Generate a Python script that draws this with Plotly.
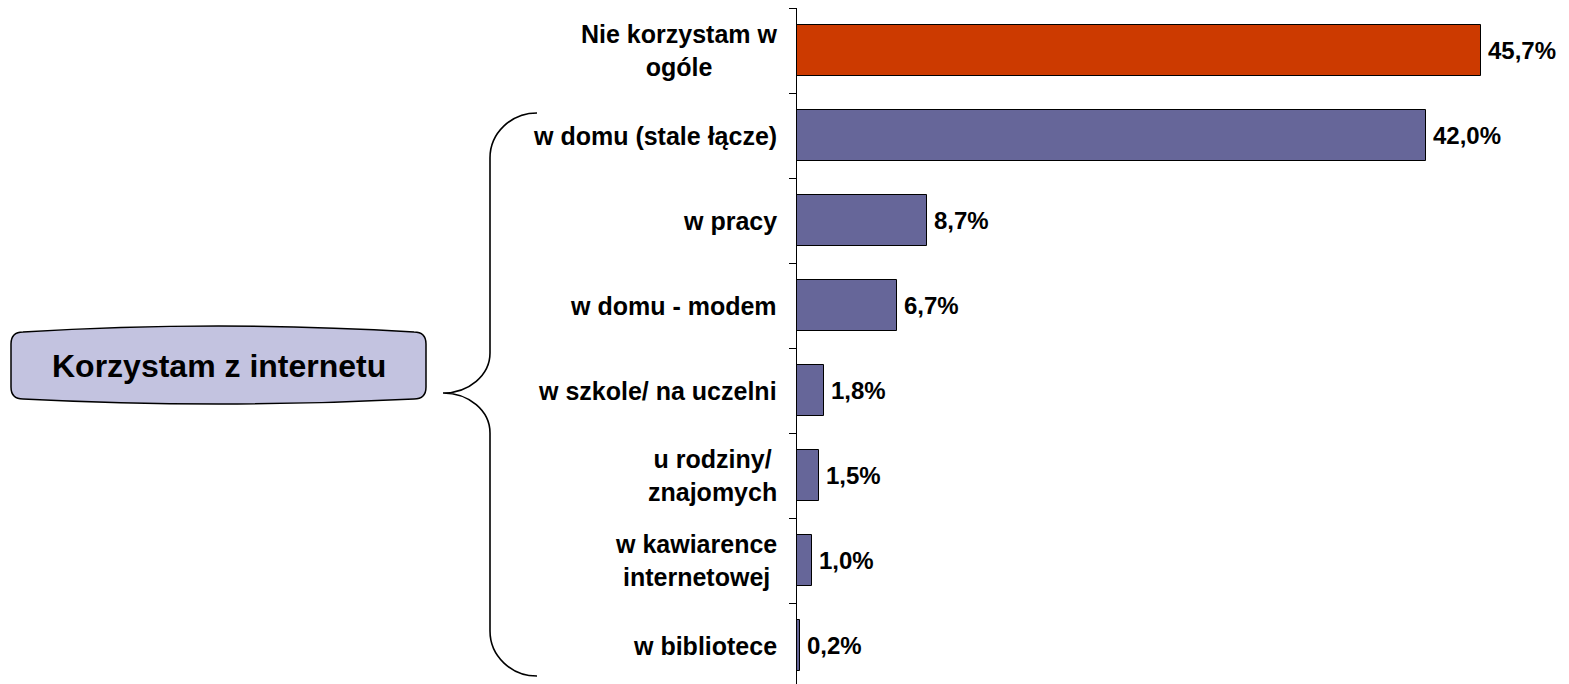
import plotly.graph_objects as go

# ---- data ----
categories = [
    "Nie korzystam w<br>ogóle",
    "w domu (stale łącze)",
    "w pracy",
    "w domu - modem",
    "w szkole/ na uczelni",
    "u rodziny/<br>znajomych",
    "w kawiarence<br>internetowej",
    "w bibliotece",
]
values = [45.7, 42.0, 8.7, 6.7, 1.8, 1.5, 1.0, 0.2]
bar_colors = ["#CC3A00"] + ["#666699"] * 7
group_label = "Korzystam z internetu"

# page body has an 8px default margin -> figure is offset by 8px
OFF = 8
W, H = 1569 - OFF, 684 - OFF
AXIS_X, TOP_Y = 797, 8          # reference-page coordinates
ML, MT = AXIS_X - OFF, TOP_Y - OFF
PW, PH = W - ML, H - MT
PX_PER_UNIT = 14.97
CAT_PX = 85.0

FONT = "Liberation Sans, Arial, sans-serif"

def px(x):
    # reference page x -> paper x
    return (x - OFF - ML) / PW

def py(y):
    # reference page y -> paper y
    return (H - (y - OFF)) / PH

ypos = list(range(len(categories)))
labels = [("%.1f" % v).replace(".", ",") + "%" for v in values]

fig = go.Figure()
fig.add_trace(go.Bar(
    x=values, y=ypos, orientation="h",
    marker=dict(color=bar_colors, line=dict(color="#000000", width=1)),
    width=0.59,
    hoverinfo="skip",
))

n_vis = PH / CAT_PX
fig.update_layout(
    width=W, height=H,
    margin=dict(l=ML, r=0, t=MT, b=0, pad=0),
    paper_bgcolor="white", plot_bgcolor="white",
    showlegend=False,
    bargap=0,
    xaxis=dict(visible=False, range=[0, PW / PX_PER_UNIT], fixedrange=True),
    yaxis=dict(
        range=[-0.5 + n_vis, -0.5],
        showline=True, linecolor="#000000", linewidth=1,
        showgrid=False, zeroline=False,
        tickmode="array",
        tickvals=[i - 0.5 for i in range(len(categories))],
        ticks="outside", ticklen=7, tickcolor="#000000", tickwidth=1,
        showticklabels=False,
    ),
)

# value labels
for i, (v, t) in enumerate(zip(values, labels)):
    fig.add_annotation(
        x=v, xref="x", y=i, yref="y",
        text="<b>%s</b>" % t, showarrow=False,
        xanchor="left", yanchor="middle", xshift=5,
        font=dict(family=FONT, size=24, color="#000000"),
    )

# category labels (centred lines, right-aligned block)
for i, c in enumerate(categories):
    fig.add_annotation(
        x=0, xref="paper", y=i, yref="y",
        text="<b>%s</b>" % c, showarrow=False,
        xanchor="right", yanchor="middle", xshift=-18,
        align="center",
        font=dict(family=FONT, size=25, color="#000000"),
    )

# rounded box
bx0, bx1, by0, by1 = 11, 426, 332, 399
r = 12
path = (
    f"M {px(bx0)},{py(by0 + r)} "
    f"Q {px(bx0)},{py(by0)} {px(bx0 + r)},{py(by0)} "
    f"Q {px((bx0 + bx1) / 2)},{py(by0 - 12)} {px(bx1 - r)},{py(by0)} "
    f"Q {px(bx1)},{py(by0)} {px(bx1)},{py(by0 + r)} "
    f"L {px(bx1)},{py(by1 - r)} "
    f"Q {px(bx1)},{py(by1)} {px(bx1 - r)},{py(by1)} "
    f"Q {px((bx0 + bx1) / 2)},{py(by1 + 10)} {px(bx0 + r)},{py(by1)} "
    f"Q {px(bx0)},{py(by1)} {px(bx0)},{py(by1 - r)} Z"
)
fig.add_shape(type="path", xref="paper", yref="paper", path=path,
              fillcolor="#C3C3E0", line=dict(color="#000000", width=1.5), layer="below")
fig.add_annotation(
    x=px((bx0 + bx1) / 2), y=py(366), xref="paper", yref="paper",
    text="<b>%s</b>" % group_label, showarrow=False,
    xanchor="center", yanchor="middle",
    font=dict(family=FONT, size=32, color="#000000"),
)

# curly brace
k = 0.5523
brace = (
    f"M {px(537)},{py(113)} "
    f"C {px(537 - 47 * k)},{py(113)} {px(490)},{py(158 - 45 * k)} {px(490)},{py(158)} "
    f"L {px(490)},{py(353)} "
    f"C {px(490)},{py(353 + 40 * k)} {px(443 + 47 * k)},{py(393)} {px(443)},{py(393)} "
    f"C {px(443 + 47 * k)},{py(393)} {px(490)},{py(433 - 40 * k)} {px(490)},{py(433)} "
    f"L {px(490)},{py(631)} "
    f"C {px(490)},{py(631 + 45 * k)} {px(537 - 47 * k)},{py(676)} {px(537)},{py(676)}"
)
fig.add_shape(type="path", xref="paper", yref="paper", path=brace,
              line=dict(color="#000000", width=1.6))

fig.write_html("out.html")
